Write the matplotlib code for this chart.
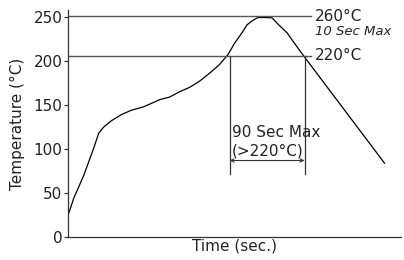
import matplotlib
matplotlib.use('Agg')
import matplotlib.pyplot as plt

# reflow profile (time in s, temperature in axis units)
time_s = [0, 1, 7, 19, 31, 37, 43, 52, 64, 76, 91, 103, 110, 122, 134, 146, 158,
          170, 182, 192, 200, 209, 215, 221, 228, 236, 245, 252, 263, 272, 282, 380]
temp_c = [25, 27, 44, 70, 101, 118, 125, 132, 139, 144, 148, 153, 156, 159, 165, 170, 177,
          186, 196, 207, 220, 232, 241, 245.5, 249.3, 249.3, 249, 242, 232, 220, 207, 84]

yticks = [0, 50, 100, 150, 200, 250]
peak_level = 251      # line labelled 260°C
liquid_level = 206    # line labelled 220°C
window = [194, 284]   # 90 s above 220°C

fig = plt.figure(figsize=(4.04, 2.6), dpi=100)
ax = fig.add_axes([0.168, 0.088, 0.825, 0.874])

ax.plot(time_s, temp_c, color='black', lw=0.9)

ref = '#555555'
ax.plot([0, 292], [peak_level, peak_level], color=ref, lw=1.0)
ax.plot([0, 292], [liquid_level, liquid_level], color=ref, lw=1.0)
for t in window:
    ax.plot([t, t], [72, liquid_level], color='#333333', lw=0.9)

ax.annotate('', xy=(window[0], 87), xytext=(window[1], 87),
            arrowprops=dict(arrowstyle='<->', color='#333333', lw=0.8,
                            mutation_scale=6, shrinkA=0, shrinkB=0))

ax.text(297, peak_level, '260°C', fontsize=11, color='#222222', va='center')
ax.text(297, 234, '10 Sec Max', fontsize=9.5, style='italic', color='#222222', va='center')
ax.text(297, liquid_level, '220°C', fontsize=11, color='#222222', va='center')
ax.text(197, 119, '90 Sec Max', fontsize=11, color='#222222', va='center')
ax.text(197, 98, '(>220°C)', fontsize=11, color='#222222', va='center')

ax.set_xlim(0, 400)
ax.set_ylim(0, 258)
ax.set_yticks(yticks)
ax.set_xticks([])
ax.tick_params(axis='y', length=3, width=0.9, pad=0.8, labelsize=11,
               color='#333333', labelcolor='#222222')
ax.set_ylabel('Temperature (°C)', fontsize=11, color='#222222', labelpad=6)
ax.set_xlabel('Time (sec.)', fontsize=11, color='#222222', labelpad=1)
for s in ['top', 'right']:
    ax.spines[s].set_visible(False)
for s in ['left', 'bottom']:
    ax.spines[s].set_color('#333333')
    ax.spines[s].set_linewidth(0.9)
ax.patch.set_alpha(0)

fig.savefig('out.png', dpi=100)
